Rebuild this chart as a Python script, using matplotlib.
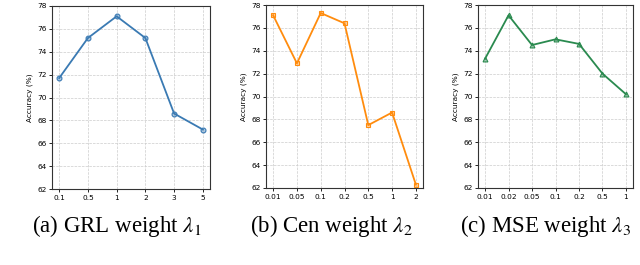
import matplotlib.pyplot as plt

grl_labels = ["0.1", "0.5", "1", "2", "3", "5"]
grl_acc = [71.7, 75.2, 77.1, 75.2, 68.6, 67.2]

cen_labels = ["0.01", "0.05", "0.1", "0.2", "0.5", "1", "2"]
cen_acc = [77.1, 72.9, 77.3, 76.4, 67.5, 68.6, 62.3]

mse_labels = ["0.01", "0.02", "0.05", "0.1", "0.2", "0.5", "1"]
mse_acc = [73.3, 77.1, 74.5, 75.0, 74.6, 72.0, 70.2]

panels = [
    (grl_labels, grl_acc, "#3a7ab3", "o", r"(a) GRL weight $\lambda_1$"),
    (cen_labels, cen_acc, "#ff8c0e", "s", r"(b) Cen weight $\lambda_2$"),
    (mse_labels, mse_acc, "#2a8a4f", "^", r"(c) MSE weight $\lambda_3$"),
]

# axes boxes in pixels: left, right, top, bottom; then caption centre x
boxes = [(52, 210, 6, 189, 117), (266, 423, 5, 188, 332), (478, 633, 5, 188, 546)]
W, H = 640, 265

fig = plt.figure(figsize=(6.4, 2.65), dpi=100)
plt.rcParams["mathtext.fontset"] = "stix"

for (labels, acc, color, marker, caption), (l, r, t, b, cx) in zip(panels, boxes):
    ax = fig.add_axes([l / W, 1 - b / H, (r - l) / W, (b - t) / H])
    x = list(range(len(labels)))
    ax.plot(x, acc, color=color, marker=marker, markersize=3.5, linewidth=1.3,
            markerfacecolor=color + "66", markeredgecolor=color, markeredgewidth=0.8)
    ax.set_xticks(x)
    ax.set_xticklabels(labels)
    ax.set_ylim(62, 78)
    ax.set_yticks(range(62, 79, 2))
    ax.tick_params(labelsize=5.3, length=2, width=0.6, pad=2)
    ax.set_ylabel("Accuracy (%)", fontsize=5.3, labelpad=3)
    ax.grid(True, linestyle="--", linewidth=0.5, color="#cccccc")
    for s in ax.spines.values():
        s.set_linewidth(0.8)
        s.set_color("#333333")
    fig.text(cx / W, 1 - 226 / H, caption, ha="center", va="center",
             fontsize=16.5, family="Liberation Serif")

fig.savefig("out.png", dpi=100)
